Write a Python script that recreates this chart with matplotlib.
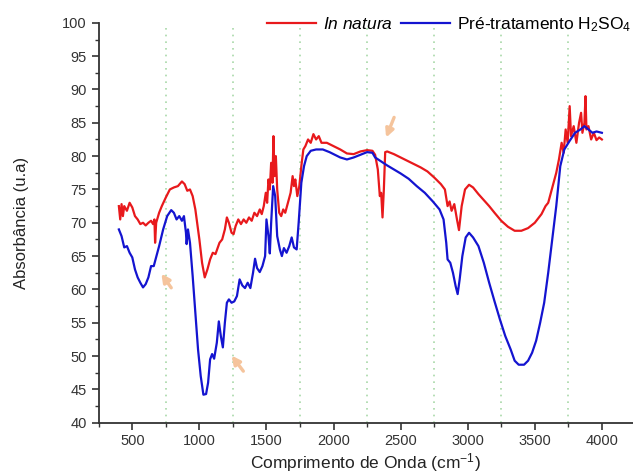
import matplotlib
matplotlib.use("Agg")
import matplotlib.pyplot as plt
from matplotlib.ticker import MultipleLocator

plt.rcParams["font.family"] = ["Liberation Sans", "DejaVu Sans"]
plt.rcParams["mathtext.fontset"] = "custom"
plt.rcParams["mathtext.rm"] = "Liberation Sans"
plt.rcParams["mathtext.it"] = "Liberation Sans:italic"

# In natura spectrum (wavenumber, absorbance)
natura_x = [400, 410, 420, 430, 440, 460, 480, 500, 520, 540, 560, 580, 600, 620, 640, 655,
            665, 670, 678, 700, 720, 750, 780, 810, 840, 870, 890, 910, 930, 950, 970, 1000,
            1020, 1040, 1060, 1080, 1100, 1120, 1150, 1170, 1190, 1205, 1220, 1240, 1255, 1270,
            1290, 1310, 1330, 1350, 1370, 1390, 1410, 1430, 1450, 1465, 1480, 1495, 1505, 1515,
            1525, 1535, 1545, 1552, 1560, 1570, 1580, 1595, 1610, 1625, 1640, 1660, 1680, 1695,
            1705, 1715, 1730, 1745, 1760, 1775, 1790, 1810, 1830, 1850, 1870, 1890, 1910, 1950,
            2000, 2050, 2100, 2150, 2200, 2250, 2290, 2310, 2330, 2345, 2355, 2365, 2375, 2385,
            2400, 2450, 2500, 2550, 2600, 2650, 2700, 2750, 2800, 2830, 2850, 2865, 2880, 2900,
            2920, 2935, 2955, 2980, 3010, 3040, 3080, 3120, 3160, 3200, 3250, 3300, 3350, 3400,
            3450, 3500, 3550, 3580, 3600, 3620, 3640, 3660, 3680, 3700, 3715, 3730, 3745, 3760,
            3770, 3790, 3810, 3830, 3845, 3855, 3870, 3878, 3885, 3900, 3920, 3940, 3960, 3980,
            4000]
natura_y = [72.5, 70.5, 72.8, 71, 72.5, 71.8, 73, 72.3, 71, 70.5, 69.8, 70, 69.6, 70, 70.3, 69.8,
            70.5, 67, 70, 71.5, 72.5, 73.8, 75, 75.3, 75.5, 76.2, 75.8, 74.8, 75, 74, 72, 67.5,
            64, 61.8, 63, 64.5, 65.5, 65.3, 67, 67.5, 69, 70.8, 70, 68.5, 68.3, 69.5,
            70.5, 69.8, 70.5, 70, 70.8, 70.3, 71.5, 71, 72, 71.3, 72.5, 74.5, 73, 76.5,
            75, 79, 76, 83, 77, 80, 75, 71.5, 71, 72, 71.5, 73, 74.5, 77,
            75.5, 76.5, 74, 75.5, 78.5, 81, 81.5, 82.5, 82, 83.3, 82.5, 83, 82, 82,
            81.5, 81, 80.4, 80.3, 80.7, 80.9, 80.8, 80.2, 78, 74, 74.5, 70.8, 75, 80.6,
            80.7, 80.3, 79.8, 79.3, 78.8, 78.3, 77.7, 76.8, 75.8, 75, 72.5, 73.2, 71.8, 72.8,
            70.5, 68.9, 72.5, 75, 75.7, 75.3, 74.3, 73.4, 72.5, 71.5, 70.3, 69.4, 68.8, 68.8,
            69.2, 70, 71.3, 72.5, 73, 74.5, 76, 77.5, 79.5, 82, 80.5, 84, 82, 87.5,
            83, 84.5, 82, 85, 86.5, 83.5, 85, 89, 84, 84.5, 82.5, 83.5, 82.4, 82.8,
            82.5]

# H2SO4 pre-treatment spectrum
acido_x = [400, 420, 440, 460, 480, 500, 520, 540, 560, 580, 600, 620, 640, 660, 680, 700,
           730, 760, 790, 810, 830, 850, 870, 885, 900, 905, 915, 930, 950, 970, 990, 1010,
           1030, 1050, 1065, 1080, 1095, 1110, 1130, 1145, 1160, 1175, 1190, 1205, 1220, 1240,
           1260, 1280, 1300, 1320, 1340, 1360, 1380, 1400, 1415, 1430, 1450, 1470, 1490, 1500,
           1515, 1525, 1535, 1550, 1565, 1580, 1600, 1615, 1630, 1650, 1670, 1688, 1705, 1725,
           1740, 1760, 1780, 1800, 1830, 1870, 1920, 1970, 2000, 2050, 2100, 2150, 2200, 2250,
           2290, 2310, 2340, 2370, 2400, 2450, 2500, 2560, 2620, 2680, 2740, 2790, 2820, 2840,
           2850, 2870, 2890, 2910, 2925, 2940, 2960, 2985, 3010, 3040, 3080, 3120, 3160, 3200,
           3240, 3280, 3320, 3350, 3380, 3420, 3450, 3480, 3510, 3540, 3570, 3600, 3630, 3660,
           3690, 3720, 3760, 3800, 3840, 3870, 3900, 3930, 3960, 4000]
acido_y = [69, 68, 66.3, 66.5, 65.5, 64.8, 63, 61.8, 61, 60.3, 60.8, 61.8, 63.5, 63.5, 65, 66.5,
           69, 71, 71.9, 71.5, 70.5, 71, 70.3, 71, 68.5, 66.8, 69, 67, 62, 56.5, 51, 47,
           44.2, 44.3, 46, 49.5, 50.3, 49.6, 52, 55.2, 53, 51.3, 55, 58, 58.5, 58,
           58.2, 59, 61.5, 60.6, 60.2, 61, 60.2, 62.5, 64.6, 63.2, 62.6, 63.5, 65, 70.5,
           68, 65.4, 70, 75.5, 74, 68, 66, 65, 66.2, 65.5, 66.5, 67.8, 66.3, 66,
           70, 76, 78.5, 80, 80.8, 81, 81, 80.6, 80.3, 79.8, 79.5, 79.8, 80.2, 80.6,
           80.5, 79.8, 79.4, 79, 78.6, 78, 77.4, 76.6, 75.5, 74.5, 73.2, 72, 70.5, 67,
           64.5, 64, 62.5, 60.5, 59.3, 61.5, 65, 67.8, 68.5, 67.8, 66.5, 64, 61, 58.2,
           55.5, 53, 51, 49.3, 48.7, 48.7, 49.3, 50.5, 52.3, 55, 58, 62.5, 67.5, 72.5,
           78.5, 81, 82.3, 83.5, 84, 84.5, 84, 83.5, 83.7, 83.5]

# dotted reference lines and arrow annotations (head, tail)
grid_x = [750, 1250, 1750, 2250, 2750, 3250, 3750]
arrow_heads = [(705, 62.7), (1228, 50.4), (2384, 82.4)]
arrow_tails = [(802, 59.9), (1340, 47.4), (2459, 86.2)]

fig = plt.figure(figsize=(6.33, 4.76), dpi=100)
ax = fig.add_axes([0.156, 0.112, 0.844, 0.84])

for gx in grid_x:
    ax.axvline(gx, color="#a8d8a8", linestyle=(0, (1, 3)), linewidth=1.2, zorder=0)

ax.plot(natura_x, natura_y, color="#e8191c", linewidth=1.6, label="$\\mathit{In\\ natura}$")
ax.plot(acido_x, acido_y, color="#1414d0", linewidth=1.6,
        label="Pré-tratamento H$_\\mathregular{2}$SO$_\\mathregular{4}$")

for head, tail in zip(arrow_heads, arrow_tails):
    ax.annotate("", xy=head, xytext=tail,
                arrowprops=dict(arrowstyle="-|>", color="#f5c49c", lw=2.4, mutation_scale=12))

ax.set_xlim(250, 4232)
ax.set_ylim(40, 100)
ax.xaxis.set_major_locator(MultipleLocator(500))
ax.xaxis.set_minor_locator(MultipleLocator(250))
ax.yaxis.set_major_locator(MultipleLocator(5))
ax.yaxis.set_minor_locator(MultipleLocator(2.5))
ax.set_xticks([500, 1000, 1500, 2000, 2500, 3000, 3500, 4000])

for s in ["top", "right"]:
    ax.spines[s].set_visible(False)
for s in ["left", "bottom"]:
    ax.spines[s].set_linewidth(1.3)
    ax.spines[s].set_color("#333333")

ax.tick_params(which="major", direction="out", length=5, width=1.2, colors="#333333",
               labelsize=10.5)
ax.tick_params(which="minor", direction="out", length=3, width=1, colors="#333333")

ax.set_xlabel("Comprimento de Onda (cm$^\\mathregular{-1}$)", fontsize=12.5, color="#222222",
              labelpad=2)
ax.set_ylabel("Absorbância (u.a)", fontsize=12, color="#222222", labelpad=24)

ax.legend(loc="center right", bbox_to_anchor=(1.0, 0.995), ncol=2, frameon=False,
          fontsize=12.5, handlelength=2.8, columnspacing=0.5, handletextpad=0.4,
          borderaxespad=0, borderpad=0.1)

fig.savefig("out.png", dpi=100)
